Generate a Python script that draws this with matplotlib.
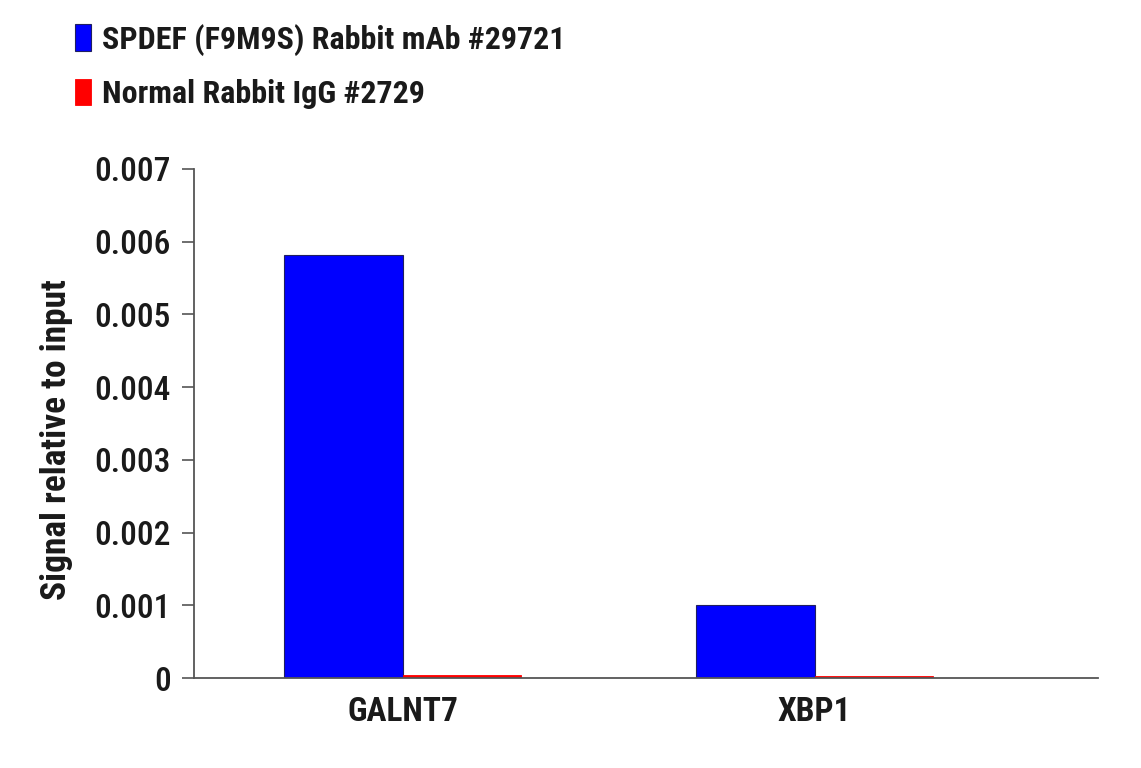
import numpy as np
import matplotlib
matplotlib.use("Agg")
import matplotlib.pyplot as plt

# condensed bold face, closest to the original artwork
plt.rcParams['font.family'] = ['Roboto Condensed', 'Liberation Sans', 'DejaVu Sans']

genes = ['GALNT7', 'XBP1']
spdef = [0.00582, 0.00101]
igg = [0.00004, 0.00003]
series_names = ['SPDEF (F9M9S) Rabbit mAb #29721', 'Normal Rabbit IgG #2729']
yticks = [0, 0.001, 0.002, 0.003, 0.004, 0.005, 0.006, 0.007]
ytick_labels = ['0', '0.001', '0.002', '0.003', '0.004', '0.005', '0.006', '0.007']

fig = plt.figure(figsize=(11.41, 7.68), dpi=100)
ax = fig.add_axes([0.170, 0.117, 0.792, 0.663])

x = np.arange(len(genes))
w = 0.288
b1 = ax.bar(x - w / 2, spdef, w, color='#0000ff', edgecolor='#202060', linewidth=0.8, label=series_names[0])
b2 = ax.bar(x + w / 2, igg, w, color='#ff0000', edgecolor='#ff0000', linewidth=0.6, label=series_names[1])

ax.set_xlim(-0.507, 1.687)
ax.set_ylim(0, 0.007)
ax.set_yticks(yticks)
ax.set_yticklabels(ytick_labels, fontsize=24, fontweight='medium', color='#1a1a1a')
ax.set_xticks(x)
ax.set_xticklabels(genes, fontsize=24, fontweight='bold', color='#1a1a1a')
ax.tick_params(axis='x', length=0, pad=13)
ax.tick_params(axis='y', length=8.5, width=1.2, color='#555555', pad=8)

for s in ['top', 'right']:
    ax.spines[s].set_visible(False)
for s in ['left', 'bottom']:
    ax.spines[s].set_color('#555555')
    ax.spines[s].set_linewidth(1.3)

ax.set_ylabel('Signal relative to input', fontsize=25.5, fontweight='bold', color='#1a1a1a')
ax.yaxis.set_label_coords(-0.134, 0.468)

leg = fig.legend(handles=[b1, b2], loc='upper left', bbox_to_anchor=(0.066, 0.969),
                 frameon=False, handlelength=0.5, handleheight=0.9,
                 handletextpad=0.34, labelspacing=0.72, borderpad=0, borderaxespad=0,
                 prop={'size': 23, 'weight': 'bold'})
for t in leg.get_texts():
    t.set_color('#1a1a1a')

fig.savefig('out.png', dpi=100)
